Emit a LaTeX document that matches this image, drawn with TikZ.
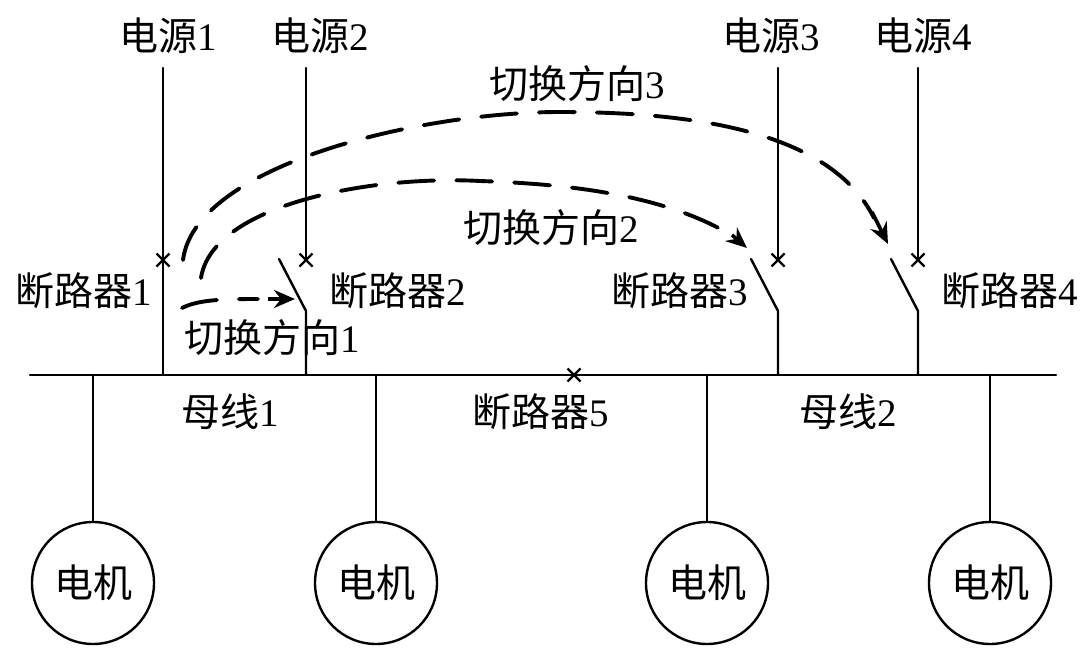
\documentclass[tikz,border=0pt]{standalone}
\usepackage{fontspec}
\setmainfont{Liberation Serif}
\newfontfamily\cjk{Noto Sans CJK SC}
\usetikzlibrary{arrows.meta,calc}
\tikzset{
  x=1pt,y=-1pt,
  wire/.style={line width=2.4pt,line cap=round},
  flow/.style={line width=3.9pt,line cap=round,dash pattern=on 36pt off 22pt},
  tipline/.style={line width=3.6pt,-{Stealth[length=21pt,width=18pt,inset=7pt]}},
  lab/.style={inner sep=0pt,font=\fontsize{39}{42}\selectfont},
  mot/.style={circle,draw,line width=2.4pt,minimum size=122pt,inner sep=0pt,font=\cjk\fontsize{39}{42}\selectfont},
  xmark/.style={line width=2.4pt}
}
\newcommand{\mycross}[1]{\draw[xmark] ($(#1)+(-6.5,-6.5)$) -- ($(#1)+(6.5,6.5)$) ($(#1)+(-6.5,6.5)$) -- ($(#1)+(6.5,-6.5)$);}
\begin{document}
\begin{tikzpicture}
\useasboundingbox (0,0) rectangle (1080,656);
\node[lab] (s1) at (168,36) {{\cjk 电源}1};
\node[lab] (s2) at (320,36) {{\cjk 电源}2};
\node[lab] (s3) at (771,36) {{\cjk 电源}3};
\node[lab] (s4) at (923,36) {{\cjk 电源}4};
\coordinate (t1) at (163,68);
\coordinate (t2) at (306,68);
\coordinate (t3) at (778,68);
\coordinate (t4) at (918,68);
\coordinate (x1) at (163,260);
\coordinate (x2) at (306,260);
\coordinate (x3) at (778,260);
\coordinate (x4) at (918,260);
\coordinate (x5) at (574,375);
\coordinate (b1) at (163,375);
\coordinate (b2) at (306,375);
\coordinate (b3) at (778,375);
\coordinate (b4) at (918,375);
\coordinate (p2) at (306,311);
\coordinate (p3) at (778,311);
\coordinate (p4) at (918,311);
\coordinate (o2) at (279,259);
\coordinate (o3) at (751,259);
\coordinate (o4) at (891,259);
\coordinate (busl) at (30,375);
\coordinate (busr) at (1056,375);
\draw[wire] (busl) -- (busr);
\draw[wire] (t1) -- (b1);
\draw[wire] (t2) -- (x2);
\draw[wire] (t3) -- (x3);
\draw[wire] (t4) -- (x4);
\draw[wire] (o2) -- (p2) -- (b2);
\draw[wire] (o3) -- (p3) -- (b3);
\draw[wire] (o4) -- (p4) -- (b4);
\mycross{x1}\mycross{x2}\mycross{x3}\mycross{x4}\mycross{x5}
\node[mot] (m1) at (93,583) {电机};
\node[mot] (m2) at (376,583) {电机};
\node[mot] (m3) at (707,583) {电机};
\node[mot] (m4) at (990,583) {电机};
\coordinate (j1) at (93,375);
\coordinate (j2) at (376,375);
\coordinate (j3) at (707,375);
\coordinate (j4) at (990,375);
\draw[wire] (j1) -- (m1);
\draw[wire] (j2) -- (m2);
\draw[wire] (j3) -- (m3);
\draw[wire] (j4) -- (m4);
\node[lab] (l1) at (84,291) {{\cjk 断路器}1};
\node[lab] (l2) at (398,291) {{\cjk 断路器}2};
\node[lab] (l3) at (680,291) {{\cjk 断路器}3};
\node[lab] (l4) at (1010,291) {{\cjk 断路器}4};
\node[lab] (l5) at (541,412) {{\cjk 断路器}5};
\node[lab] (d1) at (272,338) {{\cjk 切换方向}1};
\node[lab] (d2) at (551,228) {{\cjk 切换方向}2};
\node[lab] (d3) at (577,84) {{\cjk 切换方向}3};
\node[lab] (g1) at (230,412) {{\cjk 母线}1};
\node[lab] (g2) at (848,412) {{\cjk 母线}2};
\coordinate (c1s) at (182,308);
\coordinate (c1e) at (295,299);
\coordinate (c2s) at (201,278);
\coordinate (c2e) at (747,248);
\coordinate (c3s) at (183,260);
\coordinate (c3e) at (888,244);
\draw[flow] (c1s) .. controls (198,300) and (220,299) .. (258,299);
\draw[tipline] (268,299) -- (c1e);
\draw[flow] (c2s) .. controls (212,205) and (370,175) .. (480,181) .. controls (570,184) and (660,195) .. (726,232);
\draw[tipline] (732,235) -- (c2e);
\draw[flow] (c3s) .. controls (195,165) and (420,112) .. (560,112) .. controls (690,112) and (830,130) .. (874,218);
\draw[tipline] (872,212) -- (c3e);
\end{tikzpicture}
\end{document}
